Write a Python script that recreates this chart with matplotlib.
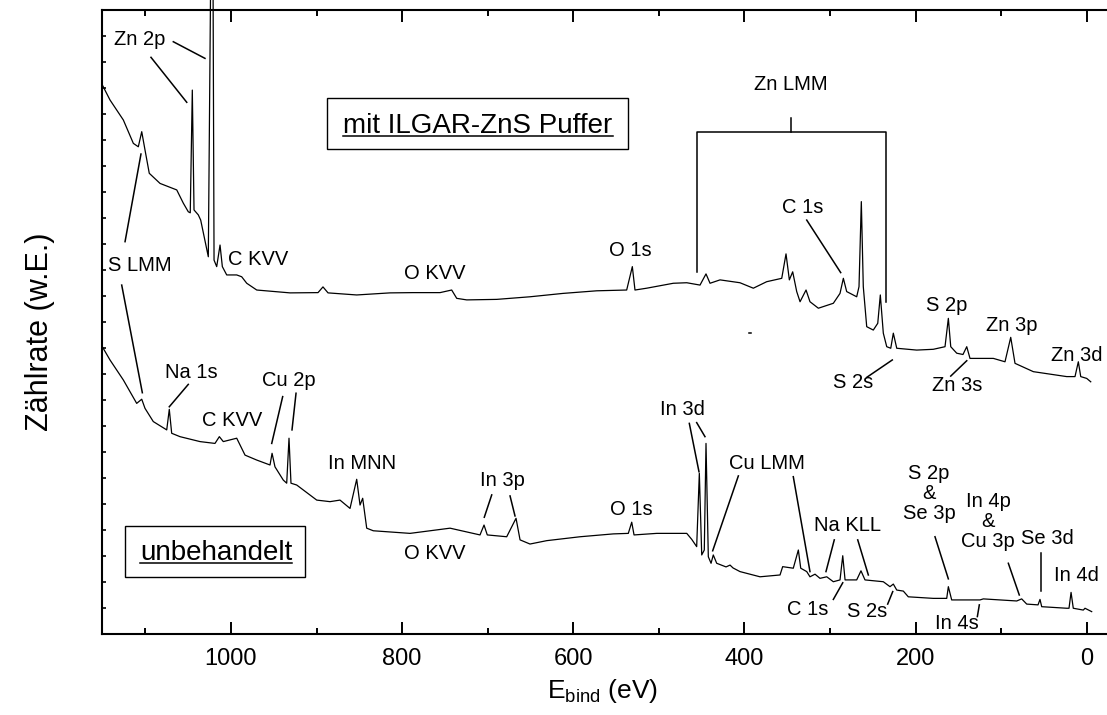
import matplotlib
matplotlib.use("Agg")
import matplotlib.pyplot as plt
from matplotlib.patches import Rectangle
from matplotlib.lines import Line2D

plt.rcParams['font.family'] = ['Liberation Sans', 'DejaVu Sans']
plt.rcParams['mathtext.default'] = 'regular'

# spectrum with ILGAR-ZnS buffer (upper curve), binding energy in eV / counts in a.u.
up_ev = [1150.4, 1141.4, 1125.8, 1114.1, 1108.3, 1104.3, 1100.5, 1095.5, 1082.9, 1063.4,
         1055.7, 1049.9, 1047.6, 1045.2, 1043.2, 1038.2, 1035.4, 1026.5, 1023.7, 1021.0,
         1019.8, 1016.7, 1012.8, 1010.1, 1005.0, 993.3, 987.5, 981.6, 969.9, 931.0,
         898.3, 892.5, 886.6, 853.1, 814.2, 787.3, 755.7, 742.1, 736.2, 724.5,
         689.5, 650.6, 612.0, 572.6, 537.6, 531.0, 527.9, 514.2, 483.1, 467.4,
         451.9, 444.9, 440.2, 428.5, 405.2, 389.6, 374.0, 356.4, 351.4, 347.5,
         343.6, 338.9, 335.0, 328.0, 323.4, 313.6, 296.1, 288.3, 284.4, 280.5,
         268.8, 266.1, 263.4, 261.1, 257.1, 249.4, 244.2, 241.2, 237.7, 233.7,
         229.0, 226.0, 222.0, 198.7, 179.3, 165.6, 161.7, 158.9, 151.9, 144.6,
         140.2, 136.4, 109.1, 95.5, 88.8, 83.8, 62.4, 23.4, 13.7, 9.8,
         7.0, 0.0, -4.7]
up_cnt = [21.12, 20.54, 19.77, 18.87, 18.74, 19.32, 18.62, 17.72, 17.33, 17.08,
          16.57, 16.24, 16.20, 20.92, 16.31, 16.12, 15.92, 14.51, 25.5, 25.5,
          14.38, 14.13, 14.96, 14.13, 13.81, 13.81, 13.74, 13.49, 13.23, 13.12,
          13.13, 13.35, 13.12, 13.04, 13.12, 13.13, 13.13, 13.23, 12.91, 12.85,
          12.87, 12.97, 13.10, 13.20, 13.23, 14.13, 13.23, 13.30, 13.49, 13.51,
          13.42, 13.85, 13.49, 13.62, 13.51, 13.30, 13.55, 13.68, 14.62, 13.62,
          13.93, 13.17, 12.78, 13.23, 12.78, 12.53, 12.72, 13.10, 13.68, 13.17,
          12.97, 13.36, 16.63, 13.36, 11.82, 11.69, 11.95, 13.04, 11.57, 11.05,
          10.99, 11.57, 10.99, 10.92, 10.95, 11.05, 12.14, 11.05, 10.80, 10.75,
          11.05, 10.60, 10.60, 10.47, 11.41, 10.41, 10.09, 9.90, 9.90, 10.47,
          9.90, 9.83, 9.70]

# untreated sample (lower curve)
low_ev = [1150.4, 1141.4, 1125.8, 1110.2, 1104.3, 1100.5, 1090.8, 1075.1, 1072.1, 1069.3,
          1059.6, 1036.2, 1018.7, 1013.6, 1009.0, 993.3, 983.6, 969.9, 954.4, 952.0,
          948.6, 938.9, 934.9, 932.2, 929.9, 923.2, 899.8, 884.3, 872.6, 860.9,
          853.1, 849.2, 846.1, 841.4, 833.7, 790.8, 744.0, 709.0, 704.3, 700.5,
          677.8, 666.9, 662.2, 650.6, 631.0, 592.1, 553.2, 535.7, 531.7, 529.0,
          502.5, 467.4, 461.6, 455.8, 452.7, 449.9, 446.9, 444.9, 442.2, 439.0,
          436.4, 432.4, 421.5, 416.8, 413.3, 405.2, 381.8, 358.4, 355.3, 342.9,
          337.0, 334.2, 327.2, 323.4, 317.5, 311.7, 303.8, 296.1, 288.3, 285.1,
          282.4, 268.8, 263.8, 259.1, 237.7, 229.9, 226.0, 222.0, 214.3, 208.5,
          179.3, 163.6, 161.7, 157.8, 124.7, 120.8, 81.8, 76.0, 70.1, 56.9,
          54.6, 52.6, 23.4, 20.7, 18.3, 15.7, 4.0, 2.0, -5.8]
low_cnt = [11.05, 10.54, 9.77, 8.87, 9.03, 8.68, 8.17, 7.85, 8.64, 7.72,
           7.59, 7.40, 7.33, 7.59, 7.40, 7.53, 6.88, 6.69, 6.50, 6.95,
           6.43, 5.92, 5.80, 7.53, 5.80, 5.73, 5.15, 5.09, 5.15, 4.83,
           5.95, 4.96, 5.22, 4.07, 3.97, 3.87, 4.07, 3.81, 4.19, 3.81,
           3.74, 4.45, 3.62, 3.46, 3.59, 3.74, 3.85, 3.87, 4.30, 3.81,
           3.87, 3.87, 3.64, 3.36, 6.18, 3.04, 3.23, 7.33, 2.97, 2.72,
           3.04, 2.72, 2.58, 2.65, 2.54, 2.40, 2.20, 2.27, 2.59, 2.53,
           3.23, 2.53, 2.40, 2.20, 2.30, 2.14, 2.20, 2.01, 2.08, 3.01,
           2.08, 2.08, 2.43, 2.08, 2.01, 1.82, 1.92, 1.69, 1.65, 1.43,
           1.37, 1.37, 1.82, 1.31, 1.31, 1.35, 1.27, 1.35, 1.15, 1.12,
           1.33, 1.05, 0.99, 0.99, 1.60, 0.99, 0.92, 0.99, 0.86]

# peak labels: text, energy, counts
labels = [
    ("Zn 2p", 1106.3, 22.85), ("S LMM", 1106.3, 14.19), ("C KVV", 968.4, 14.40),
    ("O KVV", 761.6, 13.87), ("O 1s", 533.7, 14.75), ("Zn LMM", 345.6, 21.13),
    ("C 1s", 332.1, 16.40), ("S 2s", 273.1, 9.67), ("S 2p", 163.6, 12.63),
    ("Zn 3s", 151.0, 9.54), ("Zn 3p", 87.6, 11.87), ("Zn 3d", 11.7, 10.73),
    ("Na 1s", 1045.8, 10.06), ("C KVV", 998.2, 8.21), ("Cu 2p", 932.8, 9.75),
    ("In MNN", 847.2, 6.54), ("O KVV", 762.2, 3.10), ("In 3p", 682.7, 5.90),
    ("O 1s", 532.2, 4.80), ("In 3d", 472.4, 8.65), ("Cu LMM", 373.6, 6.56),
    ("Na KLL", 279.5, 4.19), ("C 1s", 326.3, 0.94), ("S 2s", 257.1, 0.85),
    ("S 2p\n&\nSe 3p", 184.3, 5.40), ("In 4p\n&\nCu 3p", 115.0, 4.32),
    ("Se 3d", 45.8, 3.68), ("In 4d", 11.7, 2.24), ("In 4s", 151.6, 0.42),
]

# leader lines: e1, c1, e2, c2
leaders = [
    (1093.5, 22.18, 1051.7, 20.45), (1067.4, 22.78, 1030.4, 22.14),
    (1123.8, 15.09, 1105.2, 18.46), (1127.7, 13.42, 1103.6, 9.28),
    (327.2, 15.92, 287.5, 13.90), (257.1, 9.87, 227.2, 10.54),
    (158.9, 9.92, 140.2, 10.51),
    (1049.9, 9.60, 1072.1, 8.74), (939.6, 9.13, 952.4, 7.33), (924.0, 9.26, 928.7, 7.85),
    (695.3, 5.35, 704.0, 4.49), (673.9, 5.31, 668.1, 4.54),
    (464.4, 8.10, 453.1, 6.24), (455.8, 8.13, 446.1, 7.59),
    (407.1, 6.08, 437.1, 3.20), (342.9, 6.05, 323.4, 2.40),
    (295.0, 3.62, 304.7, 2.40), (267.6, 3.62, 255.2, 2.27),
    (296.1, 1.33, 285.1, 1.97), (232.6, 1.15, 226.7, 1.63),
    (177.3, 3.74, 161.7, 2.12), (91.6, 2.72, 78.8, 1.50),
    (53.8, 3.10, 53.8, 1.67), (127.8, 0.67, 125.5, 1.12),
    (395.0, 11.58, 392.0, 11.58),
]

# Zn LMM bracket
br_left, br_right, br_mid = 455.8, 234.5, 345.9
br_top, br_mid_top = 19.31, 19.85
br_left_low, br_right_low = 13.93, 12.78

fig = plt.figure(figsize=(11.07, 7.15), dpi=100)
ax = fig.add_axes([0.0924, 0.1133, 0.9076, 0.8727])

ax.plot(up_ev, up_cnt, color='black', lw=0.9, clip_on=False)
ax.plot(low_ev, low_cnt, color='black', lw=0.9)

ax.set_xlim(1150.4, -23.7)
ax.set_ylim(0, 24)

ax.set_xticks(range(0, 1001, 200))
ax.set_xticks(range(100, 1101, 200), minor=True)
ax.set_yticks(range(1, 24))
ax.set_yticklabels([])
ax.tick_params(axis='x', which='major', direction='in', length=8.6, width=1.4,
               top=True, labelsize=17, pad=10)
ax.tick_params(axis='x', which='minor', direction='in', length=4.3, width=1.4, top=True)
ax.tick_params(axis='y', which='major', direction='in', length=3, width=1.2)
for s in ['left', 'top', 'bottom']:
    ax.spines[s].set_linewidth(1.5)
ax.spines['right'].set_visible(False)

for txt, e, c in labels:
    ax.text(e, c, txt, ha='center', va='center', fontsize=14.5, linespacing=1.05)

for e1, c1, e2, c2 in leaders:
    ax.plot([e1, e2], [c1, c2], color='black', lw=1.1)

ax.plot([br_left, br_left, br_right, br_right],
        [br_left_low, br_top, br_top, br_right_low], color='black', lw=1.1)
ax.plot([br_mid, br_mid], [br_top, br_mid_top], color='black', lw=1.1)

# boxed, underlined sample names
ax.add_patch(Rectangle((536.0, 18.65), 351.8, 1.97, fill=False, lw=1.0, ec='black'))
ax.add_patch(Rectangle((913.5, 2.20), 210.3, 1.97, fill=False, lw=1.0, ec='black'))
boxtexts = [ax.text(711.3, 19.27, "mit ILGAR-ZnS Puffer", ha='center', va='baseline', fontsize=20),
            ax.text(1017.3, 2.85, "unbehandelt", ha='center', va='baseline', fontsize=20)]

fig.text(40 / 1107, 1 - 332 / 715, "Zählrate (w.E.)", rotation=90,
         ha='center', va='center', fontsize=22)
fig.text(603 / 1107, 17 / 715, r"E$_{bind}$ (eV)", ha='center', va='baseline', fontsize=19)

fig.canvas.draw()
inv = fig.transFigure.inverted()
for t in boxtexts:
    bb = t.get_window_extent()
    yb = ax.transData.transform(t.get_position())[1] - 3
    p0 = inv.transform((bb.x0, yb))
    p1 = inv.transform((bb.x1, yb))
    fig.add_artist(Line2D([p0[0], p1[0]], [p0[1], p1[1]], color='black', lw=1.1,
                          transform=fig.transFigure))

fig.savefig("out.png", dpi=100)
